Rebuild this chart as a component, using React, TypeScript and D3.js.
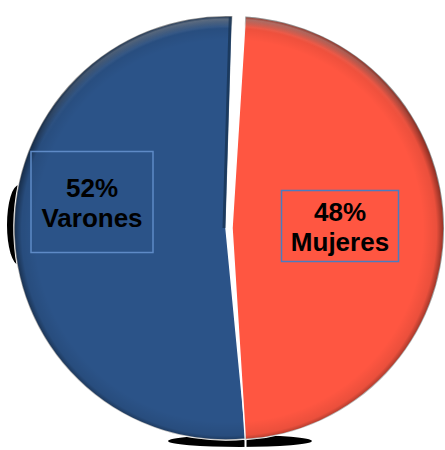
import React from "react";
import * as d3 from "d3";

const categories = ["Mujeres", "Varones"];
const values = [48, 52];
const labels = ["48%", "52%"];
const colors = ["#FF5641", "#2B5388"];

const W = 445;
const H = 450;
const cx = 226;
const cy = 228;
const R = 212;

export default function App() {
  const total = d3.sum(values);
  const start = Math.PI / 2 - (values[0] / total) * Math.PI;
  const pie = d3
    .pie<number>()
    .sort(null)
    .value((d) => d)
    .startAngle(start)
    .endAngle(start + 2 * Math.PI);
  const arcs = pie(values);
  const arc = d3.arc<d3.PieArcDatum<number>>().innerRadius(0).outerRadius(R);
  const labelArc = [
    d3.arc<d3.PieArcDatum<number>>().innerRadius(108).outerRadius(108),
    d3.arc<d3.PieArcDatum<number>>().innerRadius(134).outerRadius(134),
  ];
  const explodeArc = d3.arc<d3.PieArcDatum<number>>().innerRadius(6).outerRadius(6);
  const explode = [true, false];
  const tiltDeg = [0, -1.9];
  const boxes = [
    { w: 117, h: 71, dy: -2, stroke: "#4A7CC0" },
    { w: 122, h: 101, dy: -26, stroke: "#5E8AC6" },
  ];
  // draw blue first, red on top
  const order = [1, 0];

  return (
    <svg
      width={W}
      height={H}
      style={{ position: "absolute", left: 0, top: 0 }}
      fontFamily="'Liberation Sans', Arial, sans-serif"
    >
      <defs>
        <radialGradient id="rim" gradientUnits="userSpaceOnUse" cx={0} cy={3} r={R}>
          <stop offset="0.9" stopColor="#000" stopOpacity={0} />
          <stop offset="0.965" stopColor="#000" stopOpacity={0.08} />
          <stop offset="1" stopColor="#000" stopOpacity={0.45} />
        </radialGradient>
        <radialGradient id="hl" gradientUnits="userSpaceOnUse" cx={0} cy={0} r={R}>
          <stop offset="0.94" stopColor="#fff" stopOpacity={0} />
          <stop offset="0.985" stopColor="#fff" stopOpacity={0.3} />
          <stop offset="1" stopColor="#fff" stopOpacity={0} />
        </radialGradient>
        <linearGradient id="topfade" x1="0" y1={-R} x2="0" y2={0} gradientUnits="userSpaceOnUse">
          <stop offset="0" stopColor="#fff" stopOpacity={1} />
          <stop offset="0.6" stopColor="#fff" stopOpacity={0} />
        </linearGradient>
        <mask id="topmask" maskUnits="userSpaceOnUse" x={-R - 10} y={-R - 10} width={2 * R + 20} height={2 * R + 20}>
          <rect x={-R - 10} y={-R - 10} width={2 * R + 20} height={2 * R + 20} fill="url(#topfade)" />
        </mask>
      </defs>

      {/* 3D side shadows */}
      <ellipse cx={cx - R + 5} cy={cy - 3} rx={12} ry={40} fill="#000" />
      <ellipse cx={240} cy={cy + R + 1} rx={72} ry={6} fill="#000" />
      <line x1={245.5} x2={245.5} y1={cy + R - 6} y2={cy + R + 12} stroke="#fff" strokeWidth={2} />

      {order.map((i) => {
        const a = arcs[i];
        const [ex, ey] = explode[i] ? explodeArc.centroid(a) : [0, 0];
        return (
          <g key={categories[i]} transform={`translate(${cx + ex},${cy + ey}) rotate(${tiltDeg[i]})`}>
            <path d={arc(a) || ""} fill={colors[i]} stroke="#fff" strokeWidth={1.5} />
            <path d={arc(a) || ""} fill="url(#rim)" />
            <path d={arc(a) || ""} fill="url(#hl)" mask="url(#topmask)" />
            {i === 1 && (
              <line
                x1={0}
                y1={0}
                x2={(R - 1) * Math.sin(a.endAngle)}
                y2={-(R - 1) * Math.cos(a.endAngle)}
                stroke="#16304f"
                strokeOpacity={0.7}
                strokeWidth={3}
                transform="translate(-2,0)"
              />
            )}
          </g>
        );
      })}

      {arcs.map((a, i) => {
        const [lx, ly] = labelArc[i].centroid(a);
        const [ex, ey] = explode[i] ? explodeArc.centroid(a) : [0, 0];
        const b = boxes[i];
        const x = cx + lx + ex;
        const y = cy + ly + ey + b.dy;
        return (
          <g key={"l" + categories[i]}>
            <rect
              x={x - b.w / 2}
              y={y - b.h / 2}
              width={b.w}
              height={b.h}
              fill="none"
              stroke={b.stroke}
              strokeWidth={1.5}
            />
            <text x={x} y={y - 5} textAnchor="middle" fontSize={26} fontWeight="bold" fill="#000">
              {labels[i]}
            </text>
            <text x={x} y={y + 25} textAnchor="middle" fontSize={26} fontWeight="bold" fill="#000">
              {categories[i]}
            </text>
          </g>
        );
      })}
    </svg>
  );
}
